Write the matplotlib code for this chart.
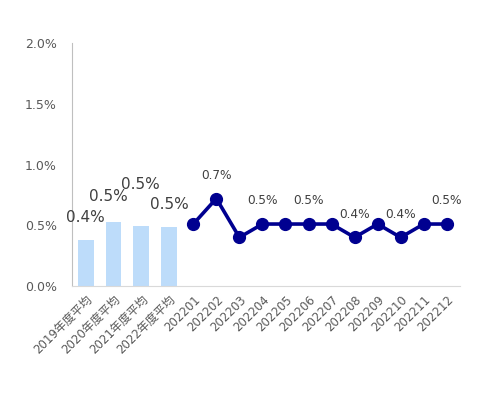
import matplotlib
matplotlib.use("Agg")
import matplotlib.pyplot as plt
from matplotlib.ticker import FuncFormatter

plt.rcParams['font.family'] = ['DejaVu Sans', 'Noto Sans CJK JP']

# ---- data ----
bar_labels = ["2019年度平均", "2020年度平均", "2021年度平均", "2022年度平均"]
bar_values = [0.38, 0.53, 0.49, 0.485]
month_labels = ["202201", "202202", "202203", "202204", "202205", "202206",
                "202207", "202208", "202209", "202210", "202211", "202212"]
month_values = [0.51, 0.72, 0.40, 0.51, 0.51, 0.51, 0.51, 0.40, 0.51, 0.40, 0.51, 0.51]
y_ticks = [0.0, 0.5, 1.0, 1.5, 2.0]

# label offsets (points) for bar labels
bar_label_offsets = [(0, 11), (-4, 13), (-1, 25), (0, 11)]

fig = plt.figure(figsize=(4.8, 3.95), dpi=100)
ax = fig.add_axes([72/480, 1-286/395, 388/480, 243/395])

txt_col = "#595959"
lab_col = "#404040"

# bars
xb = list(range(len(bar_values)))
ax.bar(xb, bar_values, width=0.57, color="#BDDCFA", zorder=2)
ax.set_xlim(-0.5, 13.5)
ax.set_ylim(0, 2.0)
ax.set_yticks(y_ticks)
ax.yaxis.set_major_formatter(FuncFormatter(lambda v, p: f"{v:.1f}%"))
ax.tick_params(axis='y', length=0, pad=11, labelsize=9, labelcolor=txt_col)
ax.set_xticks(xb)
ax.set_xticklabels(bar_labels, rotation=45, ha='right', rotation_mode='anchor',
                   fontsize=8.5, color=txt_col)
ax.tick_params(axis='x', length=0, pad=5)
for s in ['top', 'right']:
    ax.spines[s].set_visible(False)
ax.spines['left'].set_color("#BFBFBF")
ax.spines['bottom'].set_color("#D9D9D9")

for x, v, off in zip(xb, bar_values, bar_label_offsets):
    ax.annotate(f"{v:.1f}%", (x, v), xytext=off, textcoords='offset points',
                ha='center', va='bottom', fontsize=11, color=lab_col)

# line on twin x axis
ax2 = ax.twiny()
xm = list(range(len(month_values)))
ax2.plot(xm, month_values, color="#000090", lw=2.6, marker='o', markersize=8.5,
         zorder=3)
ax2.set_xlim(-5.265, 11.575)
ax2.set_xticks(xm)
ax2.set_xticklabels(month_labels, rotation=45, ha='right', rotation_mode='anchor',
                    fontsize=8.5, color=txt_col)
ax2.xaxis.set_ticks_position('bottom')
ax2.xaxis.set_label_position('bottom')
ax2.tick_params(axis='x', length=0, pad=5)
for s in ax2.spines.values():
    s.set_visible(False)

for i, (x, v) in enumerate(zip(xm, month_values)):
    if i % 2 == 1:
        ax2.annotate(f"{v:.1f}%", (x, v), xytext=(0, 12), textcoords='offset points',
                     ha='center', va='bottom', fontsize=8.7, color=lab_col)

fig.savefig("out.png", dpi=100)
